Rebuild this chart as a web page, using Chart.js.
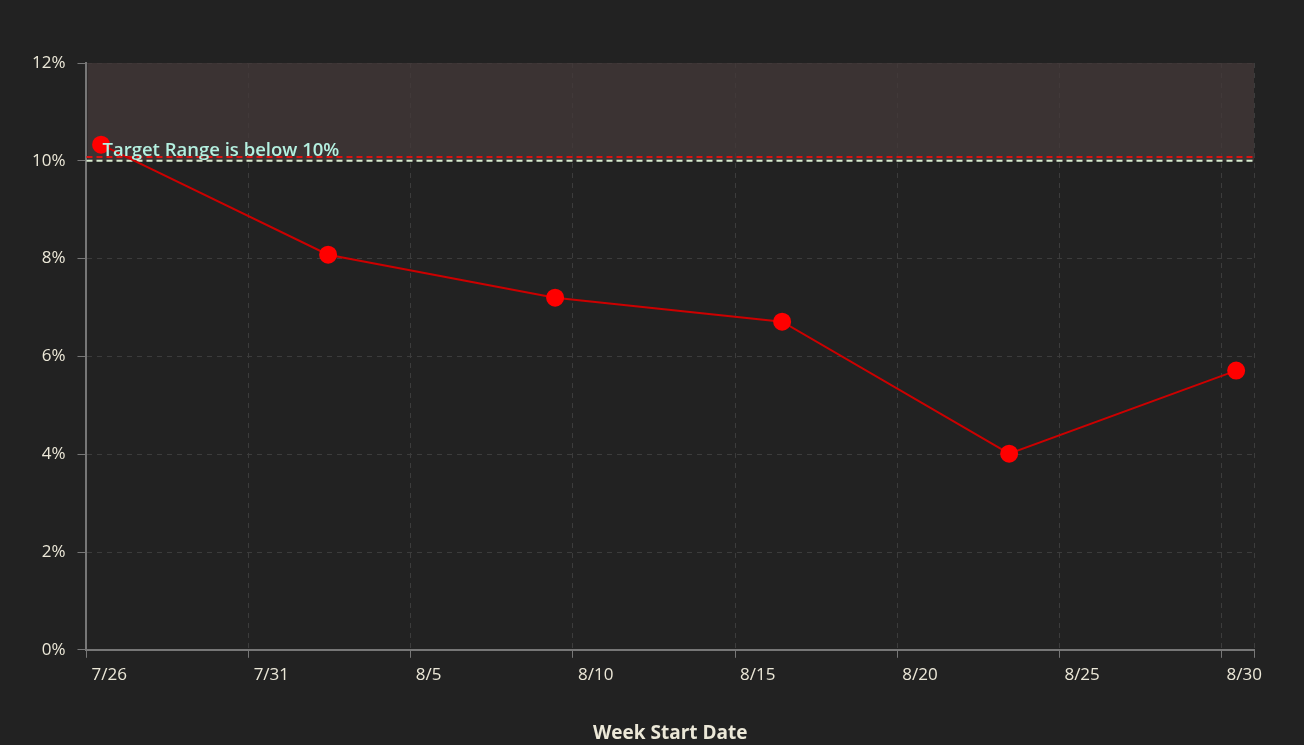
<!DOCTYPE html>
<html>
<head>
<meta charset="utf-8">
<script src="https://cdn.jsdelivr.net/npm/chart.js@4"></script>
<style>
    html, body { margin: 0; padding: 0; background: #222222; }
    #wrap { width: 1304px; height: 745px; }
</style>
</head>
<body>
<div id="wrap"><canvas id="rateChart"></canvas></div>
<script>
// day offsets from 7/26, and weekly rates (%)
const weekDays = [0.45, 7.45, 14.45, 21.45, 28.45, 35.45];
const weekRates = [10.33, 8.08, 7.2, 6.71, 4.01, 5.71];
const xTickLabels = ["7/26", "7/31", "8/5", "8/10", "8/15", "8/20", "8/25", "8/30"];
const targetValue = 10;
const targetLimitValue = 10.08;
const bandTop = 12;
const targetText = "Target Range is below 10%";

const font = "'Open Sans', 'Noto Sans', sans-serif";

const targetPlugin = {
    id: "targetPlugin",
    beforeDatasetsDraw(chart) {
        const ctx = chart.ctx;
        const area = chart.chartArea;
        const y = chart.scales.y;
        ctx.save();
        ctx.fillStyle = "rgba(66, 56, 56, 0.8)";
        let yTop = y.getPixelForValue(bandTop);
        let yBot = y.getPixelForValue(targetValue);
        ctx.fillRect(area.left + 1, yTop, area.right - area.left - 1, yBot - yTop);

        ctx.lineWidth = 2;
        ctx.setLineDash([6, 4]);
        ctx.strokeStyle = "#dd1111";
        let yr = y.getPixelForValue(targetLimitValue);
        ctx.beginPath();
        ctx.moveTo(area.left, yr);
        ctx.lineTo(area.right, yr);
        ctx.stroke();

        ctx.strokeStyle = "#d8ecd0";
        ctx.beginPath();
        ctx.moveTo(area.left, yBot);
        ctx.lineTo(area.right, yBot);
        ctx.stroke();
        ctx.restore();
    },
    afterDatasetsDraw(chart) {
        const ctx = chart.ctx;
        const area = chart.chartArea;
        const y = chart.scales.y;
        ctx.save();
        ctx.font = "600 18.5px " + font;
        ctx.fillStyle = "#b4f0e0";
        ctx.textBaseline = "alphabetic";
        ctx.fillText(targetText, area.left + 16, y.getPixelForValue(targetLimitValue) - 1);
        ctx.restore();
    }
};

new Chart(document.getElementById("rateChart"), {
    type: "line",
    data: {
        datasets: [{
            label: "Rate",
            data: weekDays.map((d, i) => ({ x: d, y: weekRates[i] })),
            borderColor: "#cc0000",
            borderWidth: 2,
            backgroundColor: "#ff0000",
            pointBackgroundColor: "#ff0000",
            pointBorderColor: "#ff0000",
            pointRadius: 8,
            tension: 0
        }]
    },
    options: {
        responsive: true,
        maintainAspectRatio: false,
        animation: false,
        layout: { padding: { top: 63, right: 50, left: 20, bottom: 0 } },
        plugins: {
            legend: { display: false },
            tooltip: { enabled: false }
        },
        scales: {
            x: {
                type: "linear",
                min: 0,
                max: 36,
                grid: {
                    color: "#3c3c3c",
                    lineWidth: 1,
                    tickLength: 8,
                    tickColor: "#777777",
                    tickBorderDash: []
                },
                border: { color: "#777777", width: 2, dash: [5, 5] },
                ticks: {
                    stepSize: 5,
                    align: "start",
                    labelOffset: 5,
                    color: "#ece8d8",
                    font: { family: font, size: 17 },
                    padding: 7,
                    maxRotation: 0,
                    callback: (v) => xTickLabels[v / 5] ?? ""
                },
                title: {
                    display: true,
                    text: "Week Start Date",
                    color: "#ece8d8",
                    font: { family: font, size: 19, weight: "bold" },
                    padding: { top: 30, bottom: 0 }
                }
            },
            y: {
                min: 0,
                max: 12,
                grid: {
                    color: "#3c3c3c",
                    lineWidth: 1,
                    tickLength: 9,
                    tickColor: "#777777",
                    tickBorderDash: []
                },
                border: { color: "#777777", width: 2, dash: [5, 5] },
                ticks: {
                    stepSize: 2,
                    color: "#ece8d8",
                    font: { family: font, size: 17 },
                    padding: 12,
                    callback: (v) => v + "%"
                }
            }
        }
    },
    plugins: [targetPlugin]
});
</script>
</body>
</html>
